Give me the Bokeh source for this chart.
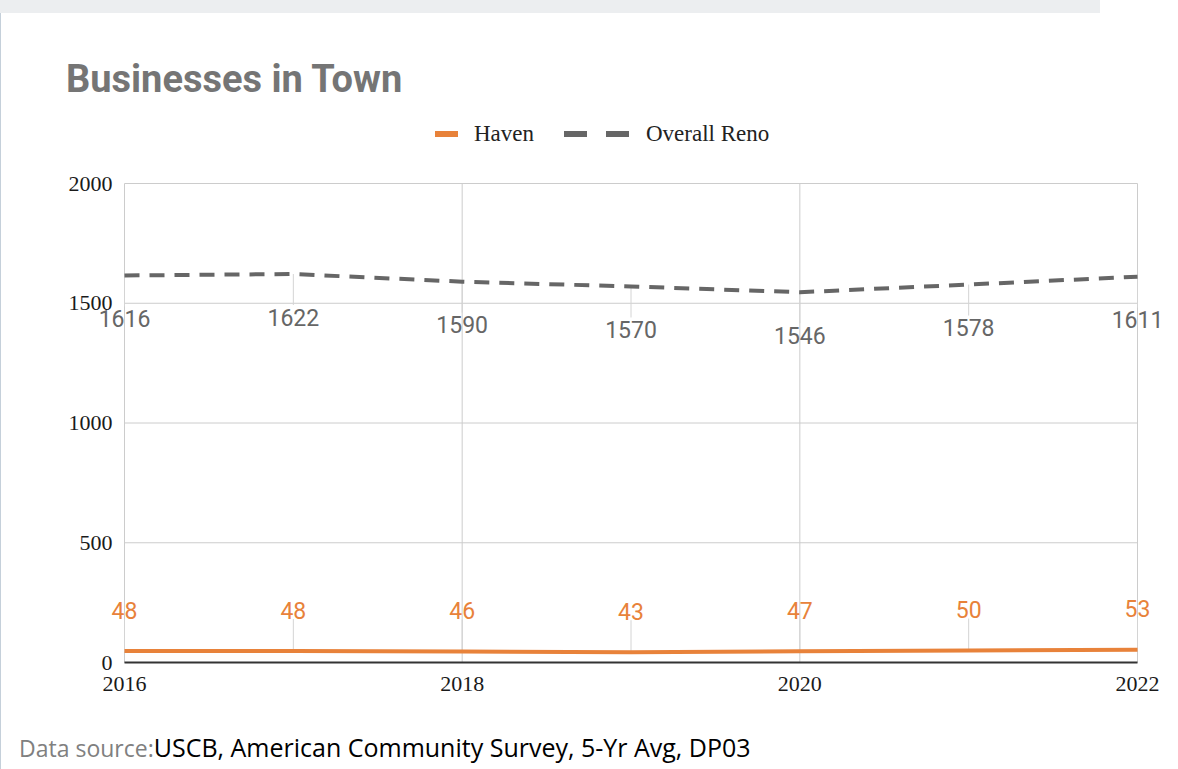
import math
from bokeh.plotting import figure
from bokeh.models import Range1d, FixedTicker, ColumnDataSource, LabelSet, Div
from bokeh.layouts import column
from bokeh.core.properties import value
from bokeh.embed import file_html
from bokeh.resources import INLINE

# ---- data ----
years = [2016, 2017, 2018, 2019, 2020, 2021, 2022]
haven = [48, 48, 46, 43, 47, 50, 53]
reno = [1616, 1622, 1590, 1570, 1546, 1578, 1611]
x_ticks = [2016, 2018, 2020, 2022]
y_ticks = [0, 500, 1000, 1500, 2000]
series_names = ["Haven", "Overall Reno"]
title_text = "Businesses in Town"
source_prefix = "Data source:"
source_text = "USCB, American Community Survey, 5-Yr Avg, DP03"

ORANGE = "#e8823a"
GREY = "#666666"

W, H = 1178, 769
HEADER_H = 160
FOOTER_TOP = 735
# frame (page pixels)
FL, FR, FT, FB = 62, 1170, 170, 699
# data extent pixels
DL, DR, DT, DB = 124, 1137, 183, 662
X0, X1 = years[0], years[-1]
Y0, Y1 = y_ticks[0], y_ticks[-1]
ppx = (DR - DL) / (X1 - X0)
ppy = (DB - DT) / (Y1 - Y0)

fig_h = FOOTER_TOP - HEADER_H
p = figure(width=W, height=fig_h,
           x_range=Range1d(X0 - (DL - FL) / ppx, X1 + (FR - DR) / ppx),
           y_range=Range1d(Y0 - (FB - DB) / ppy, Y1 + (DT - FT) / ppy),
           output_backend="svg", toolbar_location=None,
           min_border_left=FL, min_border_right=W - FR,
           min_border_top=FT - HEADER_H, min_border_bottom=FOOTER_TOP - FB,
           outline_line_color=None, background_fill_color="white",
           border_fill_color=None)
p.xgrid.visible = False
p.ygrid.visible = False

# axes
p.xaxis.ticker = FixedTicker(ticks=x_ticks)
p.yaxis.ticker = FixedTicker(ticks=y_ticks)
for ax in (p.xaxis[0], p.yaxis[0]):
    ax.major_tick_line_color = None
    ax.minor_tick_line_color = None
    ax.major_tick_out = 0
    ax.major_tick_in = 0
    ax.major_label_text_font = "Liberation Serif"
    ax.major_label_text_font_size = "22px"
    ax.major_label_text_color = "#1a1a1a"
p.xaxis.axis_line_color = "#333333"
p.xaxis.axis_line_width = 2
p.xaxis.bounds = (X0, X1)
p.xaxis.fixed_location = Y0
p.xaxis.major_label_standoff = 14
p.yaxis.axis_line_color = None
p.yaxis.fixed_location = X0
p.yaxis.major_label_standoff = 12

# gridlines
p.segment(x0=[X0] * len(y_ticks), y0=y_ticks, x1=[X1] * len(y_ticks), y1=y_ticks,
          line_color="#cccccc", line_width=1)
p.segment(x0=x_ticks, y0=[Y0] * len(x_ticks), x1=x_ticks, y1=[Y1] * len(x_ticks),
          line_color="#cccccc", line_width=1)

# annotation stems
p.ray(x=years, y=reno, length=31, length_units="screen", angle=-math.pi / 2,
      line_color="#d4d4d4", line_width=1)
p.ray(x=years, y=haven, length=32, length_units="screen", angle=math.pi / 2,
      line_color="#d4d4d4", line_width=1)

# series lines
p.line(years, haven, line_color=ORANGE, line_width=4)
p.line(years, reno, line_color=GREY, line_width=4, line_dash="15 10")

# data labels
src_r = ColumnDataSource(dict(x=years, y=reno, t=[str(v) for v in reno]))
src_h = ColumnDataSource(dict(x=years, y=haven, t=[str(v) for v in haven]))
p.add_layout(LabelSet(x="x", y="y", text="t", source=src_r, y_offset=-43,
                      text_align="center", text_baseline="middle",
                      text_font=value("Roboto"), text_font_size="23px",
                      text_color=GREY))
p.add_layout(LabelSet(x="x", y="y", text="t", source=src_h, y_offset=41,
                      text_align="center", text_baseline="middle",
                      text_font=value("Roboto"), text_font_size="23px",
                      text_color=ORANGE))

# ---- header: grey bar, title, legend ----
title_size = 38
title_top = 92 - 0.8415 * title_size
leg_size = 23
leg_top = 141 - 0.8375 * leg_size
header_html = f"""
<div style="position:relative;width:{W}px;height:{HEADER_H}px;">
  <div style="position:absolute;left:0;top:0;width:1100px;height:13px;background:#eceef0;"></div>
  <div style="position:absolute;left:66px;top:{title_top:.1f}px;font-family:Roboto;font-weight:bold;
       font-size:{title_size}px;line-height:1;color:#757575;white-space:nowrap;">{title_text}</div>
  <div style="position:absolute;left:435px;top:131px;width:23px;height:6px;background:{ORANGE};"></div>
  <div style="position:absolute;left:474px;top:{leg_top:.1f}px;font-family:'Liberation Serif';
       font-size:{leg_size}px;line-height:1;color:#222;white-space:nowrap;">{series_names[0]}</div>
  <div style="position:absolute;left:564px;top:131px;width:23px;height:6px;background:{GREY};"></div>
  <div style="position:absolute;left:606px;top:131px;width:23px;height:6px;background:{GREY};"></div>
  <div style="position:absolute;left:646px;top:{leg_top:.1f}px;font-family:'Liberation Serif';
       font-size:{leg_size}px;line-height:1;color:#222;white-space:nowrap;">{series_names[1]}</div>
</div>
"""
header = Div(text=header_html, width=W, height=HEADER_H, margin=0)

foot_size = 23
foot_size2 = 25
foot_top = 757 - FOOTER_TOP - 0.888 * foot_size2
footer_html = f"""
<div style="position:relative;width:{W}px;height:{H - FOOTER_TOP}px;">
  <div style="position:absolute;left:19px;top:{foot_top:.1f}px;font-family:'Open Sans';
       font-size:{foot_size2}px;line-height:1;white-space:nowrap;"><span style="color:#808080;font-size:{foot_size}px;">{source_prefix}</span><span style="color:#000;">{source_text}</span></div>
</div>
"""
footer = Div(text=footer_html, width=W, height=H - FOOTER_TOP, margin=0)

layout = column(header, p, footer, spacing=0, margin=0,
                styles={"background": "linear-gradient(to right, #c5d0da 0px, #c5d0da 1.5px, #ffffff 1.5px)"})

open("out.html", "w").write(file_html(layout, INLINE))
